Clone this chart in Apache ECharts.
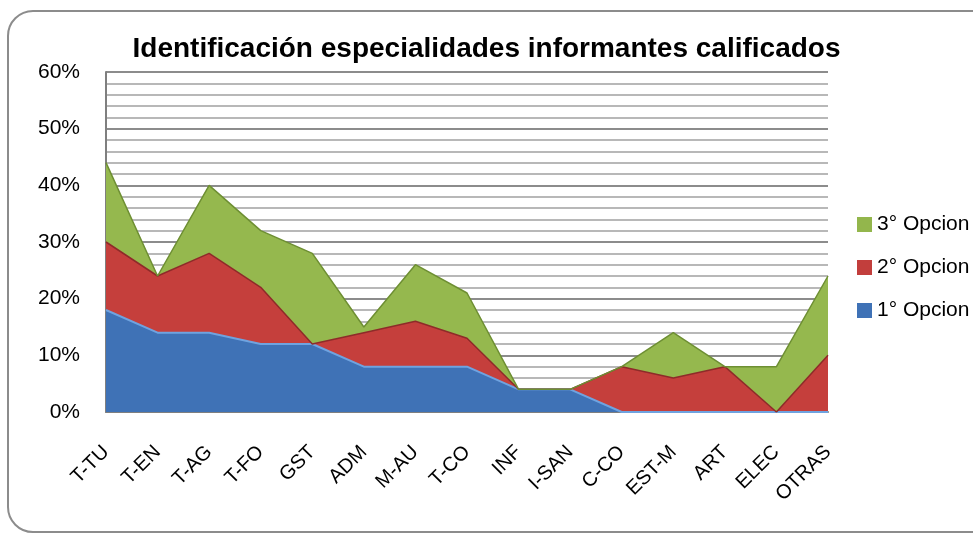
<!DOCTYPE html>
<html>
<head>
<meta charset="utf-8">
<script src="https://cdn.jsdelivr.net/npm/echarts@6/dist/echarts.min.js"></script>
<style>
  html, body { margin: 0; padding: 0; background: #fff; }
  #chart { width: 973px; height: 535px; }
</style>
</head>
<body>
<div id="chart"></div>
<script>
// especialidades
var categories = ['T-TU', 'T-EN', 'T-AG', 'T-FO', 'GST', 'ADM', 'M-AU', 'T-CO', 'INF', 'I-SAN', 'C-CO', 'EST-M', 'ART', 'ELEC', 'OTRAS']
// porcentajes por opcion (apilados)
var opcion1 = [18, 14, 14, 12, 12, 8, 8, 8, 4, 4, 0, 0, 0, 0, 0]
var opcion2 = [12, 10, 14, 10, 0, 6, 8, 5, 0, 0, 8, 6, 8, 0, 10]
var opcion3 = [14, 0, 12, 10, 16, 1, 10, 8, 0, 0, 0, 8, 0, 8, 14]
var yTicks = [0, 10, 20, 30, 40, 50, 60]

var chart = echarts.init(document.getElementById('chart'))
var font = 'Liberation Sans'

chart.setOption({
  animation: false,
  title: {
    text: 'Identificación especialidades informantes calificados',
    left: 'center',
    top: 30,
    textStyle: { fontFamily: font, fontWeight: 'bold', fontSize: 28, color: '#000' }
  },
  graphic: [{
    type: 'rect',
    shape: { x: 8, y: 11, width: 990, height: 521, r: 25 },
    style: { fill: 'none', stroke: '#8c8c8c', lineWidth: 2 },
    z: 100
  }],
  legend: {
    data: ['3° Opcion', '2° Opcion', '1° Opcion'],
    orient: 'vertical',
    left: 852,
    top: 209,
    itemWidth: 15,
    itemHeight: 15,
    itemGap: 22,
    icon: 'rect',
    textStyle: { fontFamily: font, fontSize: 21, color: '#000' }
  },
  grid: { left: 106, right: 145, top: 72, bottom: 123 },
  xAxis: {
    type: 'category',
    data: categories,
    boundaryGap: false,
    axisLine: { lineStyle: { color: '#7f7f7f', width: 2 } },
    axisTick: { show: false },
    axisLabel: { rotate: 45, margin: 37, fontFamily: font, fontSize: 20, color: '#000', interval: 0 }
  },
  yAxis: {
    type: 'value',
    min: yTicks[0],
    max: yTicks[yTicks.length - 1],
    interval: 10,
    axisLine: { show: true, lineStyle: { color: '#7f7f7f', width: 2 } },
    axisTick: { show: false },
    axisLabel: { formatter: '{value}%', margin: 26, fontFamily: font, fontSize: 21, color: '#000' },
    splitLine: { lineStyle: { color: '#8c8c8c', width: 2 } },
    minorTick: { show: false, splitNumber: 5 },
    minorSplitLine: { show: true, lineStyle: { color: '#b8b8b8', width: 2 } }
  },
  series: [{
    name: '1° Opcion',
    type: 'line',
    stack: 'total',
    data: opcion1,
    symbol: 'none',
    lineStyle: { color: '#6fa3e0', width: 2 },
    itemStyle: { color: '#3f72b6' },
    areaStyle: { color: '#3f72b6', opacity: 1 }
  }, {
    name: '2° Opcion',
    type: 'line',
    stack: 'total',
    data: opcion2,
    symbol: 'none',
    lineStyle: { color: '#8e2b29', width: 1.5 },
    itemStyle: { color: '#c23e3c' },
    areaStyle: { color: '#c53f3c', opacity: 1 }
  }, {
    name: '3° Opcion',
    type: 'line',
    stack: 'total',
    data: opcion3,
    symbol: 'none',
    lineStyle: { color: '#6e8f33', width: 1.5 },
    itemStyle: { color: '#93b64c' },
    areaStyle: { color: '#95b84e', opacity: 1 }
  }]
})
</script>
</body>
</html>
